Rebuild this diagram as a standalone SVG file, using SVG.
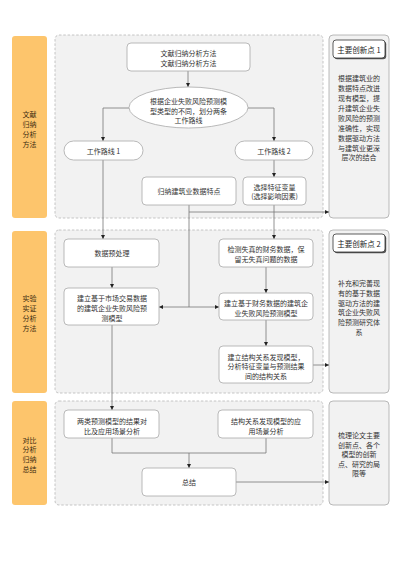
<svg xmlns="http://www.w3.org/2000/svg" width="400" height="566" viewBox="0 0 400 566">
<defs>
<marker id="arr" viewBox="0 0 6 6" refX="6" refY="3" markerWidth="4" markerHeight="4" markerUnits="userSpaceOnUse" orient="auto">
<path d="M0,0 L6,3 L0,6 z" fill="#222"/>
</marker>
<style>
text{font-family:"Noto Sans CJK SC","Noto Sans",sans-serif;font-size:7px;fill:#333;text-anchor:middle;dominant-baseline:central}
.bar{fill:#fdc56c}
.lbl{fill:#3d2c10}
.panel{fill:#f2f2f2;stroke:#b8b8b8;stroke-width:0.8;stroke-dasharray:2.5,1.8}
.side{fill:#f2f2f2;stroke:#a8a8a8;stroke-width:0.8}
.node{fill:#fff;stroke:#a8a8a8;stroke-width:0.8}
.hdr{fill:#fff;stroke:#333;stroke-width:0.8}
.hdrs{fill:#555}
.ln{fill:none;stroke:#777;stroke-width:0.8}
.ar{marker-end:url(#arr)}
.h{font-size:7.5px;fill:#222}
</style>
</defs>
<rect width="400" height="566" fill="#fff"/>

<!-- left bars -->
<g id="bar1"><rect class="bar" x="12" y="36" width="35" height="182" rx="3"/>
<text class="lbl" x="29.5" y="114">文献</text><text class="lbl" x="29.5" y="124">归纳</text><text class="lbl" x="29.5" y="134">分析</text><text class="lbl" x="29.5" y="143.5">方法</text></g>
<g id="bar2"><rect class="bar" x="12" y="231" width="35" height="162" rx="3"/>
<text class="lbl" x="29.5" y="298">实验</text><text class="lbl" x="29.5" y="308">实证</text><text class="lbl" x="29.5" y="318">分析</text><text class="lbl" x="29.5" y="327.5">方法</text></g>
<g id="bar3"><rect class="bar" x="12" y="401" width="35" height="104" rx="3"/>
<text class="lbl" x="29.5" y="439.5">对比</text><text class="lbl" x="29.5" y="449">分析</text><text class="lbl" x="29.5" y="459">归纳</text><text class="lbl" x="29.5" y="469">总结</text></g>

<!-- panels -->
<g id="panels">
<rect class="panel" x="55" y="35" width="268" height="183" rx="4"/>
<rect class="panel" x="55" y="230" width="268" height="163" rx="4"/>
<rect class="panel" x="55" y="401" width="268" height="104" rx="4"/>
</g>

<!-- innovation boxes -->
<g id="innov1"><rect class="side" x="329" y="35" width="60" height="183" rx="4"/>
<rect class="hdrs" x="334.2" y="41.2" width="52" height="18" rx="3"/>
<rect class="hdr" x="333" y="40" width="52" height="18" rx="3"/>
<text class="h" x="359" y="49">主要创新点 1</text>
<text x="359" y="78">根据建筑业的</text><text x="359" y="88">数据特点改进</text><text x="359" y="98">现有模型，提</text><text x="359" y="108">升建筑企业失</text><text x="359" y="118">败风险的预测</text><text x="359" y="128">准确性，实现</text><text x="359" y="138">数据驱动方法</text><text x="359" y="147.5">与建筑业更深</text><text x="359" y="157">层次的结合</text></g>
<g id="innov2"><rect class="side" x="329" y="230" width="60" height="163" rx="4"/>
<rect class="hdrs" x="334.2" y="235.2" width="52" height="18" rx="3"/>
<rect class="hdr" x="333" y="234" width="52" height="18" rx="3"/>
<text class="h" x="359" y="243">主要创新点 2</text>
<text x="359" y="283">补充和完善现</text><text x="359" y="293">有的基于数据</text><text x="359" y="302.5">驱动方法的建</text><text x="359" y="312">筑企业失败风</text><text x="359" y="321.5">险预测研究体</text><text x="359" y="331.5">系</text></g>
<g id="innov3"><rect class="side" x="329" y="401" width="60" height="104" rx="4"/>
<text x="359" y="435">梳理论文主要</text><text x="359" y="444.5">创新点、各个</text><text x="359" y="454">模型的创新</text><text x="359" y="463.5">点、研究的局</text><text x="359" y="473">限等</text></g>

<!-- connectors -->
<g id="connectors">
<path class="ln ar" d="M188,71 V87"/>
<path class="ln ar" d="M129,108 H103 V141"/>
<path class="ln ar" d="M248,108 H274 V141"/>
<path class="ln ar" d="M274,160 V177"/>
<path class="ln ar" d="M103,160 V239"/>
<path class="ln ar" d="M274,205 V239"/>
<path class="ln ar" d="M189,205 V212 H329"/>
<path class="ln ar" d="M189,212 V307 H159"/>
<path class="ln ar" d="M189,307 H219"/>
<path class="ln ar" d="M112,267 V288"/>
<path class="ln ar" d="M266,267 V293"/>
<path class="ln ar" d="M266,320 V346"/>
<path class="ln ar" d="M313,365 H329"/>
<path class="ln ar" d="M112,325 V410"/>
<path class="ln ar" d="M112,438 V453 H189 V468"/>
<path class="ln" d="M266,438 V453 H189"/>
<path class="ln ar" d="M236,482 H329"/>
</g>

<!-- panel 1 nodes -->
<g id="n_wenxian"><rect class="node" x="127" y="43" width="123" height="28" rx="4"/>
<text x="188.5" y="53">文献归纳分析方法</text><text x="188.5" y="63">文献归纳分析方法</text></g>
<g id="n_split"><ellipse class="node" cx="188.5" cy="107.5" rx="59.5" ry="20.5"/>
<text x="188.5" y="101">根据企业失败风险预测模</text><text x="188.5" y="111">型类型的不同，划分两条</text><text x="188.5" y="120">工作路线</text></g>
<g id="n_route1"><rect class="node" x="64" y="141" width="79" height="19" rx="9.5"/>
<text x="103.5" y="150.5">工作路线 1</text></g>
<g id="n_route2"><rect class="node" x="235" y="141" width="78" height="19" rx="9.5"/>
<text x="274" y="150.5">工作路线 2</text></g>
<g id="n_guina"><rect class="node" x="142" y="177" width="94" height="28" rx="4"/>
<text x="189" y="191">归纳建筑业数据特点</text></g>
<g id="n_select"><rect class="node" x="243" y="177" width="63" height="28" rx="4"/>
<text x="274.5" y="186.5">选择特征变量</text><text x="274.5" y="196">(选择影响因素)</text></g>

<!-- panel 2 nodes -->
<g id="n_pre"><rect class="node" x="64" y="239" width="95" height="28" rx="4"/>
<text x="112" y="253">数据预处理</text></g>
<g id="n_market"><rect class="node" x="64" y="288" width="95" height="37" rx="4"/>
<text x="112" y="298">建立基于市场交易数据</text><text x="112" y="308">的建筑企业失败风险预</text><text x="112" y="318">测模型</text></g>
<g id="n_detect"><rect class="node" x="219" y="239" width="94" height="28" rx="4"/>
<text x="266" y="249">检测失真的财务数据，保</text><text x="266" y="259">留无失真问题的数据</text></g>
<g id="n_fin"><rect class="node" x="219" y="293" width="94" height="27" rx="4"/>
<text x="266" y="303">建立基于财务数据的建筑企</text><text x="266" y="313">业失败风险预测模型</text></g>
<g id="n_struct"><rect class="node" x="219" y="346" width="94" height="37" rx="4"/>
<text x="266" y="356.5">建立结构关系发现模型，</text><text x="266" y="366">分析特征变量与预测结果</text><text x="266" y="375.5">间的结构关系</text></g>

<!-- panel 3 nodes -->
<g id="n_compare"><rect class="node" x="64" y="410" width="95" height="28" rx="4"/>
<text x="112" y="421">两类预测模型的结果对</text><text x="112" y="431">比及应用场景分析</text></g>
<g id="n_apply"><rect class="node" x="218" y="410" width="95" height="28" rx="4"/>
<text x="266" y="421">结构关系发现模型的应</text><text x="266" y="431">用场景分析</text></g>
<g id="n_sum"><rect class="node" x="142" y="468" width="94" height="28" rx="4"/>
<text x="189" y="482">总结</text></g>
</svg>
